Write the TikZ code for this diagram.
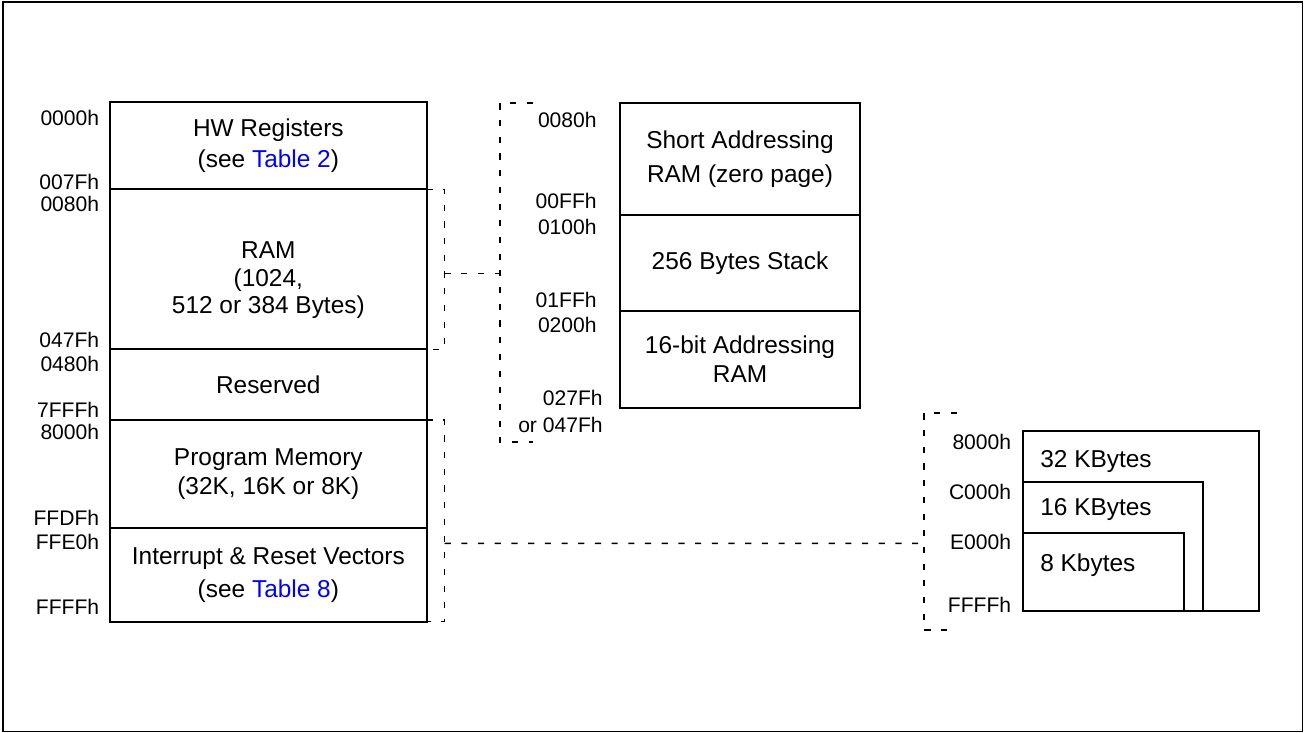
\documentclass[tikz,border=0pt]{standalone}
\usepackage{fontspec}
\setmainfont{Liberation Sans}
\usetikzlibrary{positioning, calc}

\begin{document}
\begin{tikzpicture}[
    region/.style={rectangle, draw, line width=1.1pt, outer sep=0pt, minimum width=6.333cm, align=center, font=\fontsize{13.9}{16.5}\selectfont},
    subregion/.style={region, minimum width=4.8cm},
    kbox/.style={rectangle, draw, line width=1.1pt, outer sep=0pt, anchor=south west},
    kbtext/.style={anchor=west, inner sep=0pt, font=\fontsize{13.9}{16.5}\selectfont},
    addr/.style={anchor=east, inner sep=0pt, font=\fontsize{12}{14}\selectfont},
    brk/.style={line width=0.9pt, dash pattern=on 3.5pt off 6pt}
]
\useasboundingbox (0,0) rectangle (26.08,-14.66);
\draw[line width=1.1pt] (0.055,-0.035) rectangle (26.05,-14.63);

% Main memory map
\node[region, minimum height=1.74cm, anchor=north west] (hw) at (2.2,-2.046) {HW Registers\\[1pt] (see \textcolor{blue}{Table 2})};
\node[region, minimum height=3.2cm, below=0pt of hw] (ram) {};
\node[region, draw=none, minimum height=0pt] (ramtxt) at ([yshift=-0.22cm]ram.center) {RAM\\[-1pt] (1024,\\[-1pt] 512 or 384 Bytes)};
\node[region, minimum height=1.414cm, below=0pt of ram] (res) {Reserved};
\node[region, minimum height=2.166cm, below=0pt of res] (prog) {Program Memory\\ (32K, 16K or 8K)};
\node[region, minimum height=1.868cm, below=0pt of prog] (irq) {Interrupt \& Reset Vectors\\[2.5pt] (see \textcolor{blue}{Table 8})};

% Addresses of the main map
\node[addr] (a0000) at (1.99,-2.35) {0000h};
\node[addr] (a007F) at (1.99,-3.634) {007Fh};
\node[addr] (a0080) at (1.99,-4.074) {0080h};
\node[addr] (a047F) at (1.99,-6.8) {047Fh};
\node[addr] (a0480) at (1.99,-7.28) {0480h};
\node[addr] (a7FFF) at (1.99,-8.2) {7FFFh};
\node[addr] (a8000) at (1.99,-8.634) {8000h};
\node[addr] (aFFDF) at (1.99,-10.366) {FFDFh};
\node[addr] (aFFE0) at (1.99,-10.84) {FFE0h};
\node[addr] (aFFFF) at (1.99,-12.134) {FFFFh};

% RAM detail
\node[subregion, minimum height=2.247cm, anchor=north west] (zp) at (12.4,-2.053) {Short Addressing\\[3pt] RAM (zero page)};
\node[subregion, minimum height=1.913cm, below=0pt of zp] (stk) {256 Bytes Stack};
\node[subregion, minimum height=1.953cm, below=0pt of stk] (ext) {16-bit Addressing\\ RAM};

\node[addr] (z0080) at (11.94,-2.4) {0080h};
\node[addr] (z00FF) at (11.94,-4.024) {00FFh};
\node[addr] (z0100) at (11.94,-4.54) {0100h};
\node[addr] (z01FF) at (11.94,-5.994) {01FFh};
\node[addr] (z0200) at (11.94,-6.49) {0200h};
\node[addr] (z027F) at (12.06,-7.966) {027Fh};
\node[addr] (z047F) at (12.06,-8.5) {or 047Fh};

% Program memory detail
\node[kbox, minimum width=4.727cm, minimum height=3.6cm] (k32) at (20.453,-12.22) {};
\node[kbox, minimum width=3.6cm, minimum height=2.587cm] (k16) at (k32.south west) {};
\node[kbox, minimum width=3.227cm, minimum height=1.567cm] (k8) at (k32.south west) {};

\node[kbtext] (t32) at (20.8,-9.234) {32 KBytes};
\node[kbtext] (t16) at (20.8,-10.2) {16 KBytes};
\node[kbtext] (t8) at (20.8,-11.3) {8 Kbytes};

\node[addr] (k8000) at (20.23,-8.834) {8000h};
\node[addr] (kC000) at (20.23,-9.84) {C000h};
\node[addr] (kE000) at (20.23,-10.834) {E000h};
\node[addr] (kFFFF) at (20.23,-12.106) {FFFFh};

% Dashed brackets
\coordinate (ztop) at (10.0,-2.06);
\coordinate (zbot) at (10.0,-8.84);
\draw[brk] (ram.north east) -- ++(0.36,0) |- (ram.south east);
\draw[brk] ([shift={(0.36,-0.08)}]ram.east) -- ([yshift=-0.08cm]ram.east -| ztop);
\draw[brk] ([xshift=0.66cm]ztop) -- (ztop) -- (zbot) -- ([xshift=0.66cm]zbot);

\coordinate (ktop) at (18.48,-8.26);
\coordinate (kbot) at (18.48,-12.6);
\coordinate (klink) at (18.48,-10.866);
\draw[brk] (prog.north east) -- ++(0.36,0) |- (irq.south east);
\draw[brk] ([shift={(0.36,-0.3)}]irq.north east) -- (klink);
\draw[brk] ([xshift=0.66cm]ktop) -- (ktop) -- (kbot) -- ([xshift=0.66cm]kbot);

\end{tikzpicture}
\end{document}
